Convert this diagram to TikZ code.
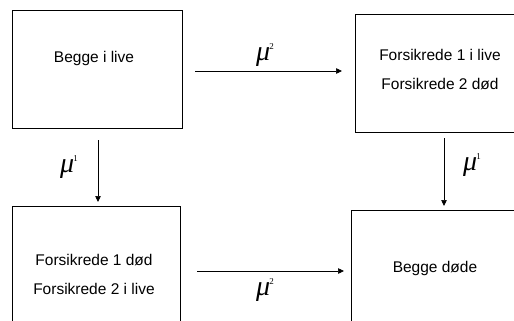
\documentclass[tikz,border=0pt]{standalone}
\usepackage{fontspec}
\setmainfont{Liberation Sans}
\newfontfamily\mufont{Liberation Serif}
\usetikzlibrary{arrows.meta}
\newcommand{\mulab}[1]{{\mufont\itshape μ}\kern-1pt\raisebox{0.42em}{\mufont\fontsize{9}{10}\selectfont #1}}
\begin{document}
\begin{tikzpicture}[x=1pt,y=-1pt,
  box/.style={draw, line width=0.8pt, anchor=north west, inner sep=0pt},
  txt/.style={align=center, inner sep=0pt, font=\fontsize{15.5}{29}\selectfont},
  arr/.style={-{Triangle[length=6pt,width=5.5pt]}, line width=0.7pt},
  lab/.style={inner sep=0pt, font=\fontsize{28}{30}\selectfont}]
\useasboundingbox (0,0) rectangle (514,321);
\clip (0,0) rectangle (514,321);
% boxes
\node[box, minimum width=170pt, minimum height=118pt] (b1) at (12,10) {};
\node[box, minimum width=175pt, minimum height=118pt] (b2) at (355,14) {};
\node[box, minimum width=168pt, minimum height=130pt] (b3) at (12,206) {};
\node[box, minimum width=175pt, minimum height=130pt] (b4) at (351,210) {};
% texts
\node[txt] (t1) at (94,58) {Begge i live};
\node[txt] (t2) at (440,70) {Forsikrede 1 i live\\Forsikrede 2 død};
\node[txt] (t3) at (94,274) {Forsikrede 1 død\\Forsikrede 2 i live};
\node[txt] (t4) at (435,268) {Begge døde};
% arrows
\coordinate (h1s) at (195,71);
\coordinate (h1e) at (342,71);
\coordinate (h2s) at (197,271);
\coordinate (h2e) at (344,271);
\coordinate (v1s) at (98,140);
\coordinate (v1e) at (98,202);
\coordinate (v2s) at (444,138);
\coordinate (v2e) at (444,206);
\draw[arr] (h1s) -- (h1e);
\draw[arr] (h2s) -- (h2e);
\draw[arr] (v1s) -- (v1e);
\draw[arr] (v2s) -- (v2e);
% labels
\node[lab] (m1) at (265,55) {\mulab{2}};
\node[lab] (m2) at (265,290) {\mulab{2}};
\node[lab] (m3) at (69,167) {\mulab{1}};
\node[lab] (m4) at (472,165) {\mulab{1}};
\end{tikzpicture}
\end{document}
